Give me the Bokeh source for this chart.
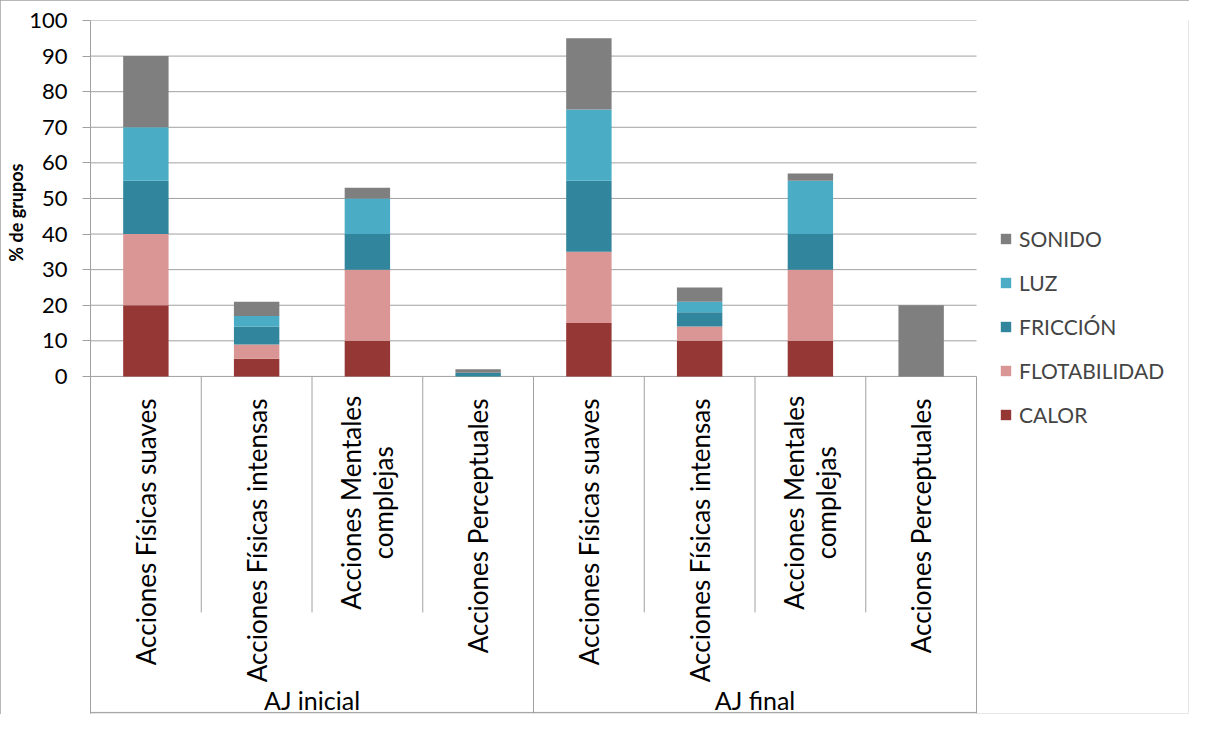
from bokeh.plotting import figure
from bokeh.models import (ColumnDataSource, Range1d, FixedTicker, Legend, LegendItem, Title)
from bokeh.core.properties import value
from bokeh.embed import file_html
from bokeh.resources import INLINE

# ---------------- data ----------------
grupos = ["AJ inicial", "AJ final"]
acciones = ["Acciones Físicas suaves", "Acciones Físicas intensas",
            "Acciones Mentales\ncomplejas", "Acciones Perceptuales"]
series = ["CALOR", "FLOTABILIDAD", "FRICCIÓN", "LUZ", "SONIDO"]
calor = [20, 5, 10, 0, 15, 10, 10, 0]
flotabilidad = [20, 4, 20, 0, 20, 4, 20, 0]
friccion = [15, 5, 10, 1, 20, 4, 10, 0]
luz = [15, 3, 10, 0, 20, 3, 15, 0]
sonido = [20, 4, 3, 1, 20, 4, 2, 20]
y_ticks = [0, 10, 20, 30, 40, 50, 60, 70, 80, 90, 100]

colors = ["#953735", "#D99694", "#31859C", "#4BACC6", "#7F7F7F"]
FONT = "Lato"
GRID = "#A0A0A0"

n_groups = len(grupos)
n_sub = len(acciones)
n = n_groups * n_sub
x_centers = [i + 0.5 for i in range(n)]
sub_labels = [acciones[i % n_sub] for i in range(n)]

src = ColumnDataSource(dict(x=x_centers, CALOR=calor, FLOTABILIDAD=flotabilidad,
                            FRICCIÓN=friccion, LUZ=luz, SONIDO=sonido))

Y_BOTTOM = -94.7
X_END = 9.914   # plot frame also holds the legend area right of the table
p = figure(width=1189, height=714, output_backend="svg", toolbar_location=None,
           x_range=Range1d(0, X_END), y_range=Range1d(Y_BOTTOM, 100),
           x_axis_location=None, min_border_left=90, min_border_right=1,
           min_border_top=20, min_border_bottom=1,
           styles={"outline": "1px solid #A0A0A0", "outline-offset": "-1px"})
p.outline_line_color = None
p.xgrid.visible = False
p.ygrid.visible = False

ax = p.yaxis[0]
ax.ticker = FixedTicker(ticks=y_ticks)
ax.major_label_text_font = FONT
ax.major_label_text_font_size = "22px"
ax.major_label_text_color = "#000000"
ax.major_label_standoff = 15
ax.major_tick_in = 0
ax.major_tick_out = 8
ax.minor_tick_line_color = None
ax.axis_line_color = GRID
ax.major_tick_line_color = GRID

# y-axis title, placed on the 0-100 part of the axis
p.add_layout(Title(text="% de grupos", align="right", offset=143,
                   text_font=FONT, text_font_style="bold", text_font_size="18px",
                   text_color="#000000", standoff=0), "left")

# horizontal gridlines across the category table only
p.segment(x0=[0] * len(y_ticks), y0=y_ticks, x1=[n] * len(y_ticks), y1=y_ticks,
          line_color=GRID, line_width=1)

renderers = p.vbar_stack(series, x="x", width=0.41, source=src, color=colors,
                         line_color=None)

# separators of the category table
sep_x = list(range(n + 1))
sep_top = [0] * (n + 1)
sep_bot = [Y_BOTTOM if (i % n_sub == 0) else -66.3 for i in sep_x]
p.segment(x0=sep_x, y0=sep_top, x1=sep_x, y1=sep_bot, line_color=GRID, line_width=1)
p.segment(x0=[0], y0=[Y_BOTTOM + 0.3], x1=[n], y1=[Y_BOTTOM + 0.3], line_color=GRID,
          line_width=1)

# category labels (rotated)
single_x = [x for x, l in zip(x_centers, sub_labels) if "\n" not in l]
single_t = [l for l in sub_labels if "\n" not in l]
multi_x = [x for x, l in zip(x_centers, sub_labels) if "\n" in l]
multi_t = [l for l in sub_labels if "\n" in l]
p.text(x=single_x, y=[-6.2] * len(single_x), text=single_t, angle=1.5708,
       text_align="right", text_baseline="middle", text_font=value(FONT),
       text_font_size="26px", text_color="#000000")
p.text(x=multi_x, y=[-35.5] * len(multi_x), text=multi_t, angle=1.5708,
       text_align="center", text_baseline="middle", text_font=value(FONT),
       text_font_size="26px", text_color="#000000", text_line_height=1.0)

# group labels
g_x = [g * n_sub + n_sub / 2 for g in range(n_groups)]
p.text(x=g_x, y=[-91.0] * n_groups, text=grupos, text_align="center",
       text_baseline="middle", text_font=value(FONT), text_font_size="25px",
       text_color="#000000")

items = [LegendItem(label=s, renderers=[r]) for s, r in zip(series, renderers)][::-1]
legend = Legend(items=items, location=(909, 286), padding=0, margin=0,
                border_line_color=None, background_fill_alpha=0,
                glyph_width=13, glyph_height=13, label_standoff=7,
                label_height=24, spacing=19, label_text_font=FONT,
                label_text_font_size="21px", label_text_baseline="middle")
p.add_layout(legend, "center")

open("out.html", "w").write(file_html(p, INLINE))
